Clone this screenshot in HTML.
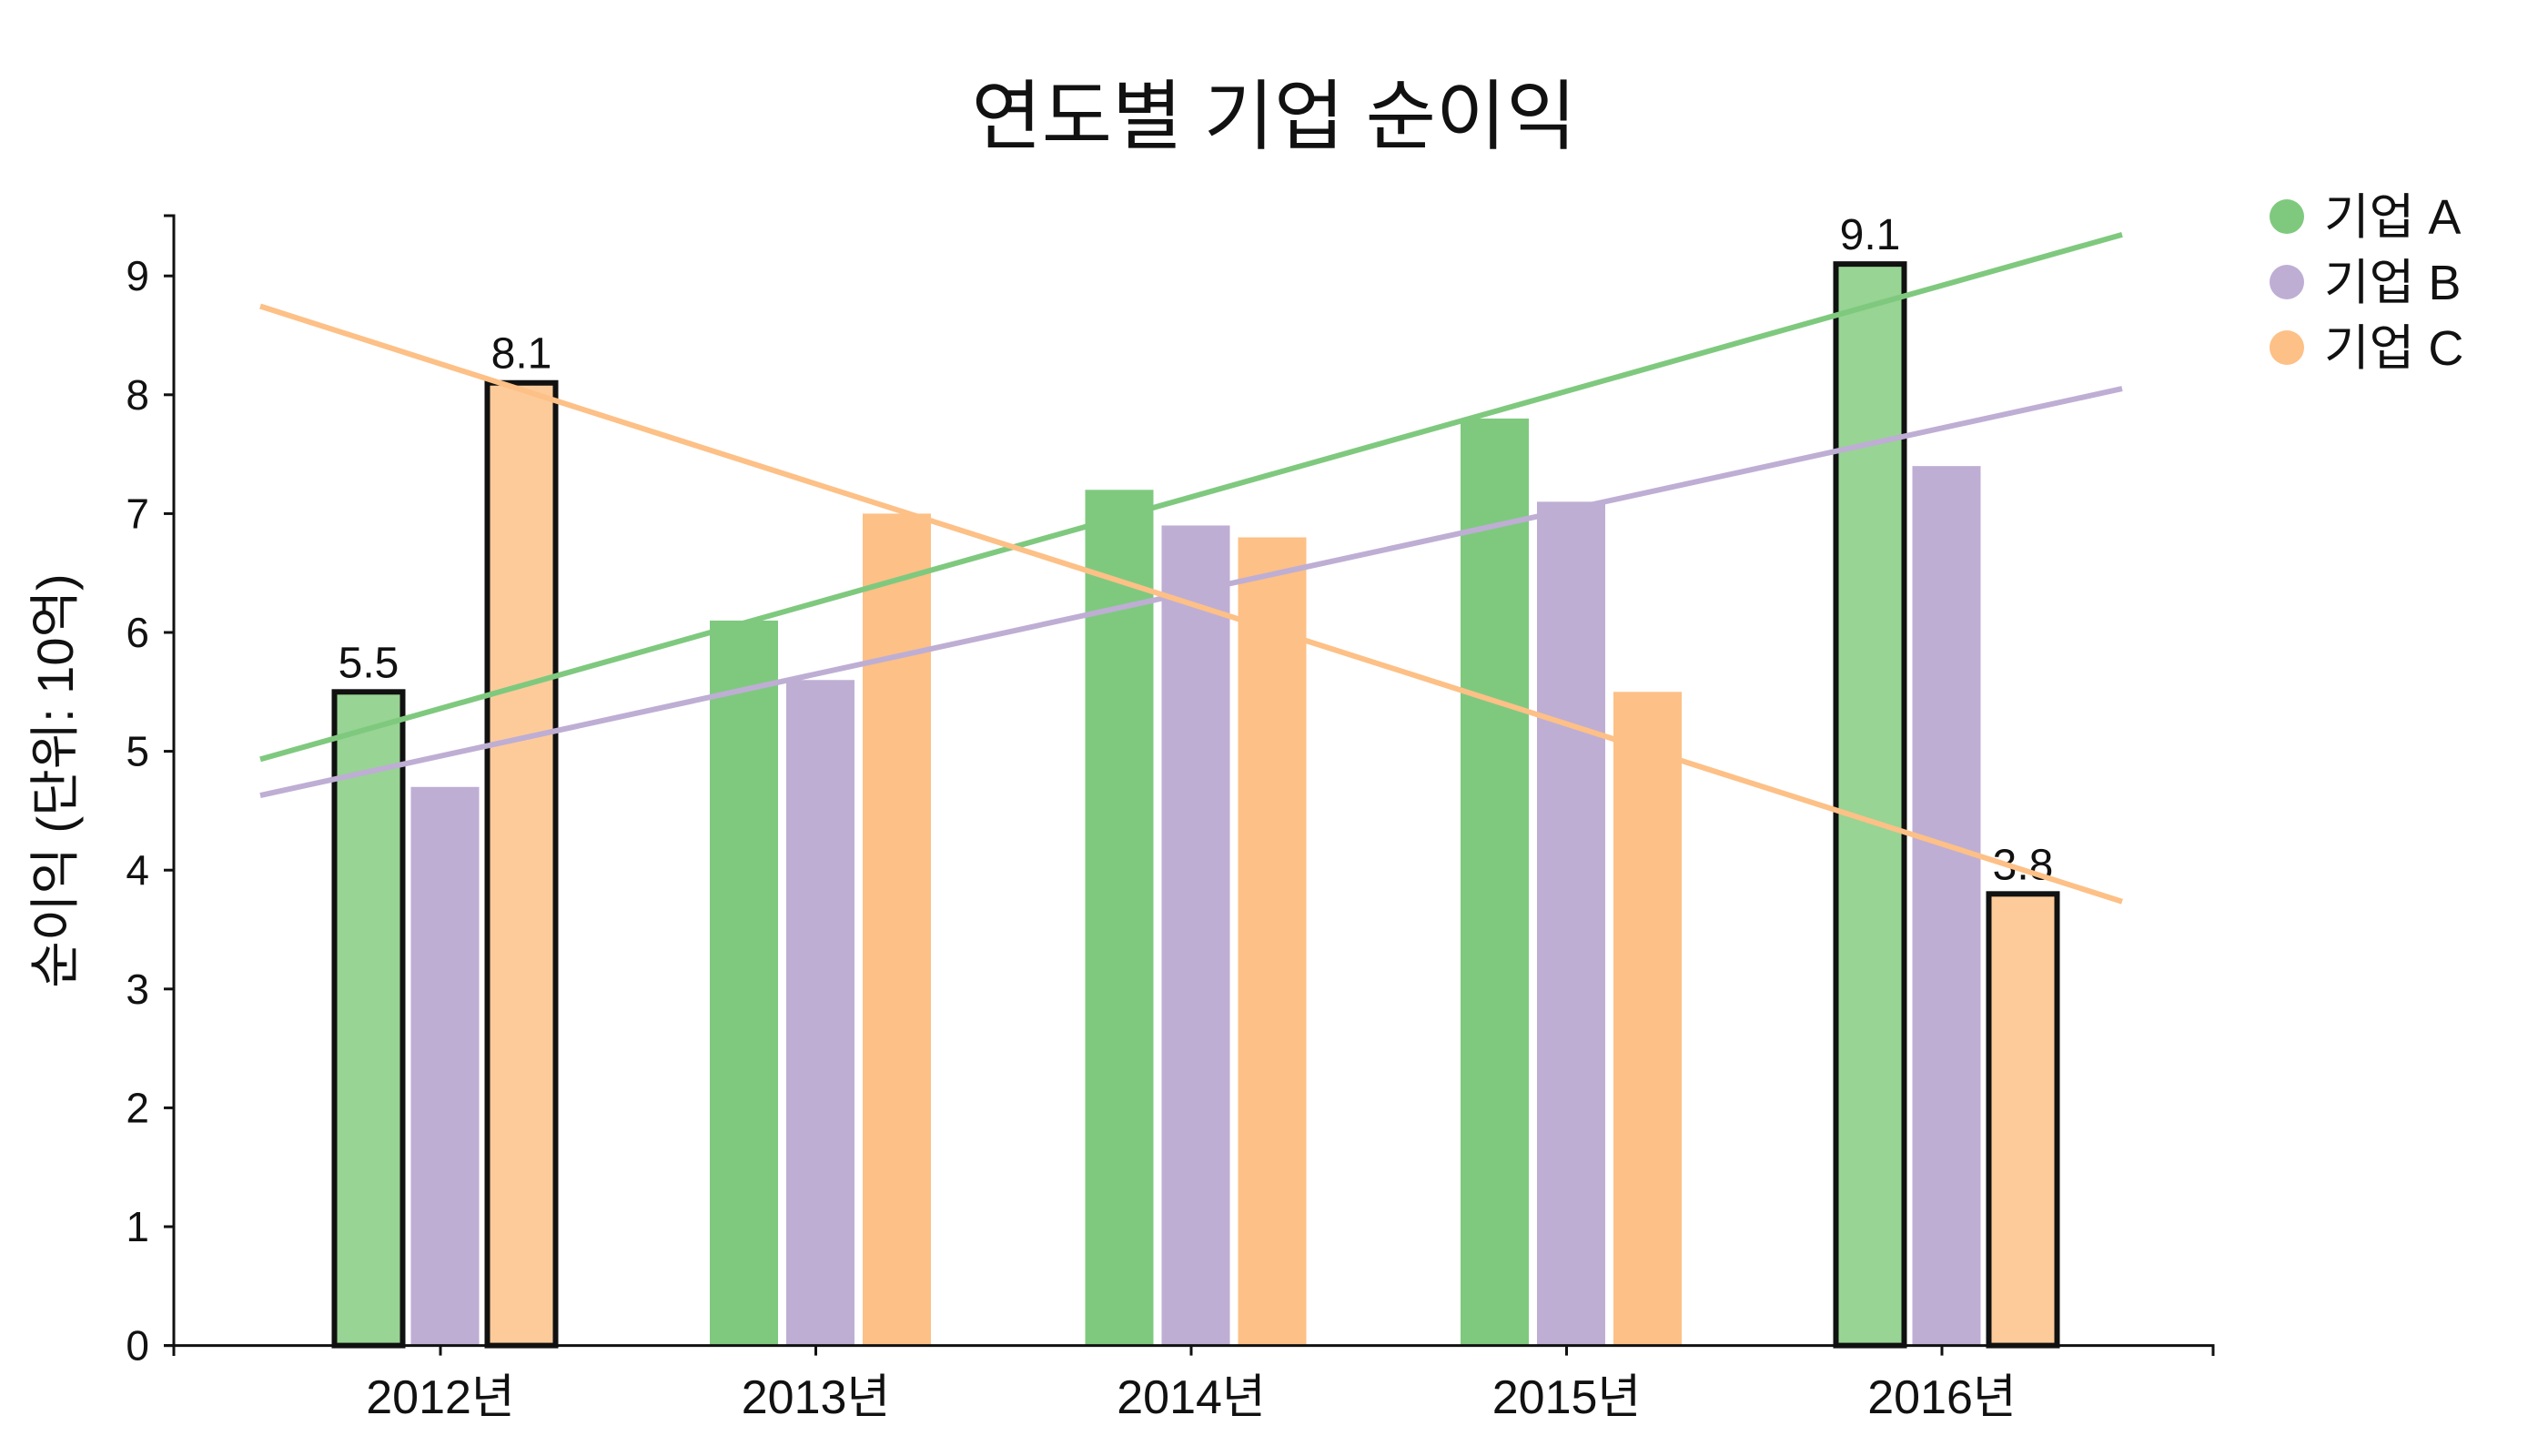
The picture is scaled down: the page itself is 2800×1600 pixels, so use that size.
<!DOCTYPE html>
<html><head><meta charset="utf-8"><style>
html,body{margin:0;padding:0;background:#fff;}
svg{display:block;font-family:"Liberation Sans","Noto Sans CJK KR",sans-serif;}
</style></head><body>
<svg id="chart" width="2800" height="1600" xmlns="http://www.w3.org/2000/svg">
<text x="1400" y="157" text-anchor="middle" font-size="84" fill="#111">연도별 기업 순이익</text>
<text transform="translate(80,858) rotate(-90)" text-anchor="middle" font-size="56" fill="#111">순이익 (단위: 10억)</text>
<g id="plot"></g>
<g id="legend"></g>
</svg>
<script>
const categories = ["2012년","2013년","2014년","2015년","2016년"];
const seriesNames = ["기업 A","기업 B","기업 C"];
const valuesA = [5.5,6.1,7.2,7.8,9.1];
const valuesB = [4.7,5.6,6.9,7.1,7.4];
const valuesC = [8.1,7.0,6.8,5.5,3.8];
const yTicks = [0,1,2,3,4,5,6,7,8,9];
const highlightYears = [0,4];
const highlightSeries = [0,2];

const NS="http://www.w3.org/2000/svg";
const colors=["#7fc97f","#beaed4","#fdc086"];
const lightColors=["#98d494","#cdc0df","#fdcb9a"];
const allSeries=[valuesA,valuesB,valuesC];
const y0=1478.6, unit=130.6;
const yScale=v=>y0-v*unit;
const xScale=i=>484+i*412.5;
const barW=75, off=84, shift=5;
const plot=document.getElementById('plot');
function mk(tag,attrs,parent){const e=document.createElementNS(NS,tag);for(const k in attrs)e.setAttribute(k,attrs[k]);(parent||plot).appendChild(e);return e;}

allSeries.forEach((vals,s)=>{
  vals.forEach((v,i)=>{
    const hl=highlightYears.includes(i)&&highlightSeries.includes(s);
    const cx=xScale(i)+shift+(s-1)*off;
    const r=mk('rect',{x:cx-barW/2,y:yScale(v),width:barW,height:y0-yScale(v),fill:hl?lightColors[s]:colors[s]});
    
    
    if(hl){
      r.setAttribute('stroke','#111');r.setAttribute('stroke-width','6');
      const t=mk('text',{x:cx,y:yScale(v)-16,'text-anchor':'middle','font-size':'48',fill:'#111'});
      t.textContent=v.toFixed(1);
      
      
    }
  });
});
allSeries.forEach((vals,s)=>{
  const n=vals.length,mx=(n-1)/2,my=vals.reduce((a,b)=>a+b,0)/n;
  let num=0,den=0;vals.forEach((v,i)=>{num+=(i-mx)*(v-my);den+=(i-mx)*(i-mx);});
  const m=num/den,b=my-m*mx;
  const xa=-0.48,xb=n-1+0.48;
  const l=mk('line',{x1:xScale(xa),y1:yScale(m*xa+b),x2:xScale(xb),y2:yScale(m*xb+b),stroke:colors[s],'stroke-width':'6'});
  
  
});
const ax=mk('path',{d:'M180,237H191V1478.6H180',fill:'none',stroke:'#111','stroke-width':'3'});


yTicks.forEach(v=>{
  const tk=mk('line',{x1:180,x2:191,y1:yScale(v),y2:yScale(v),stroke:'#111','stroke-width':'3'});
  
  
  const t=mk('text',{x:164,y:yScale(v)+16,'text-anchor':'end','font-size':'46',fill:'#111'});
  t.textContent=v;
  
  
});
const bx=mk('path',{d:'M191,1490V1478.6H2432V1490',fill:'none',stroke:'#111','stroke-width':'3'});


categories.forEach((c,i)=>{
  const tk=mk('line',{x1:xScale(i),x2:xScale(i),y1:y0,y2:y0+11,stroke:'#111','stroke-width':'3'});
  
  
  const t=mk('text',{x:xScale(i),y:1553,'text-anchor':'middle','font-size':'52',fill:'#111'});
  t.textContent=c;
  
  
});
const lg=document.getElementById('legend');
seriesNames.forEach((nm,s)=>{
  const g=mk('g',{},lg);
  
  
  mk('circle',{cx:2513,cy:238+s*72,r:19,fill:colors[s]},g);
  const t=mk('text',{x:2554,y:257+s*72,'font-size':'54',fill:'#111'},g);
  t.textContent=nm;
});
</script>
</body></html>
